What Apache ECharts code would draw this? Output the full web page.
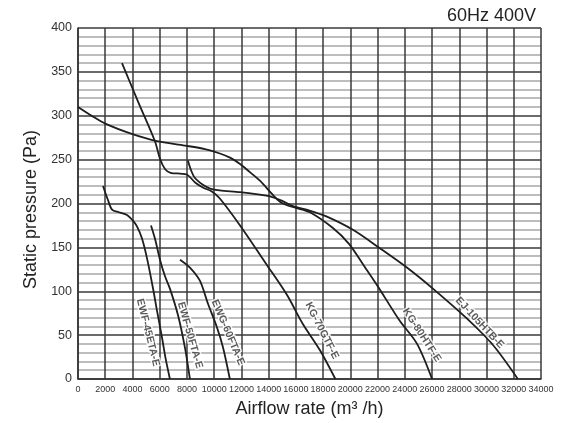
<!DOCTYPE html>
<html><head><meta charset="utf-8">
<script src="https://cdn.jsdelivr.net/npm/echarts@6/dist/echarts.min.js"></script>
<style>html,body{margin:0;padding:0;background:#fff}#c{width:583px;height:423px}</style>
</head><body><div id="c"></div>
<script>
const title = '60Hz 400V';
const xName = 'Airflow rate (m\u00b3 /h)';
const yName = 'Static pressure (Pa)';
const xTicks = [0,2000,4000,6000,8000,10000,12000,14000,16000,18000,20000,22000,24000,26000,28000,30000,32000,34000];
const yTicks = [0,50,100,150,200,250,300,350,400];

const ewf45 = [[1835,220],[2200,204],[2500,193],[3000,190],[3600,187],[4000,181],[4330,174],[4700,160],[5060,138],[5500,104],[5800,78],[6170,47],[6450,22],[6750,0]];
const ewf50 = [[5360,175],[5650,160],[6020,136],[6390,117],[6750,103],[7340,73],[7850,36],[8220,0]];
const ewg60 = [[7490,136],[8220,127],[8950,112],[9540,86],[10200,59],[10650,36],[11150,0]];
const kg70 = [[3230,360],[4440,315],[5650,271],[6020,251],[6400,239],[6800,235],[7500,234],[8000,233],[8600,224],[9200,218],[9800,214],[10400,206],[11900,175],[13870,130],[15340,96],[16500,63],[17760,33],[18900,0]];
const kg80 = [[0,310],[1000,300],[2000,291],[4000,279],[5800,271],[7850,266],[9320,262],[10420,257],[11200,252],[11900,245],[12600,236],[13360,226],[14300,210],[14830,202],[15340,198],[16000,195],[17030,190],[18720,172],[19900,154],[21000,129],[22000,106],[23600,67],[24900,40],[26000,0]];
const ej105 = [[8070,249],[8300,238],[8590,229],[9200,221],[9700,217],[10400,215],[11900,213],[13360,210],[14090,208],[15000,203],[15780,197],[17000,192],[18280,185],[20190,170],[22170,149],[24150,127],[26060,103],[28550,69],[30460,39],[32300,0]];

const curveNames = ['EWF-45ETA-E','EWF-50FTA-E','EWG-60FTA-E','KG-70GTF-E','KG-80HTF-E','EJ-105HTB-E'];
const curveData = [ewf45, ewf50, ewg60, kg70, kg80, ej105];
// label anchor points (data space) and rotation angles
const labelAt = [[5140,53],[8220,50],[11010,53],[17910,55],[25250,50],[29500,64]];
const labelRot = [-76,-74,-67,-63,-57,-47];

const chart = echarts.init(document.getElementById('c'));
const series = curveData.map((d,i)=>({
  name: curveNames[i], type:'line', data:d, smooth:0.3, showSymbol:false,
  lineStyle:{color:'#1e1e1e', width:1.8}, z:3
}));
series.push({
  type:'scatter', symbolSize:0, z:5,
  data: labelAt.map((p,i)=>({value:p, name:curveNames[i], label:{rotate:labelRot[i]}})),
  label:{show:true, position:'inside', formatter:p=>p.name, color:'#333', fontSize:10.5, fontWeight:'bold',
    fontFamily:'Liberation Sans Narrow, Arial Narrow, Liberation Sans, sans-serif',
    textBorderColor:'#fff', textBorderWidth:3}
});
chart.setOption({
  animation:false,
  title:{text:title, right:42, top:2, textStyle:{fontSize:18, fontWeight:'normal', color:'#222', fontFamily:'Liberation Sans, Arial, sans-serif'}},
  grid:{left:78, right:42, top:28, bottom:41},
  xAxis:{type:'value', min:0, max:34000, interval:2000,
    name:xName, nameLocation:'middle', nameGap:21,
    nameTextStyle:{fontSize:18, color:'#222', fontFamily:'Liberation Sans, Arial, sans-serif'},
    axisLine:{show:true, lineStyle:{color:'#333', width:1.5}}, axisTick:{show:false},
    axisLabel:{fontSize:9, color:'#333', margin:6, hideOverlap:false, fontFamily:'Liberation Sans, Arial, sans-serif', formatter:v=>String(v)},
    splitLine:{show:true, lineStyle:{color:'#3a3a3a', width:1.5}}
  },
  yAxis:{type:'value', min:0, max:400, interval:50,
    name:yName, nameLocation:'middle', nameGap:36,
    nameTextStyle:{fontSize:18, color:'#222', padding:[0,12,0,0], fontFamily:'Liberation Sans, Arial, sans-serif'},
    axisLine:{show:true, lineStyle:{color:'#333', width:1.5}}, axisTick:{show:false},
    axisLabel:{fontSize:12.5, color:'#333', margin:6, fontFamily:'Liberation Sans, Arial, sans-serif'},
    splitLine:{show:true, lineStyle:{color:'#3a3a3a', width:1.5}},
    minorTick:{show:false, splitNumber:5},
    minorSplitLine:{show:true, lineStyle:{color:'#a8a8a8', width:1.5}}
  },
  series: series
});
</script></body></html>
